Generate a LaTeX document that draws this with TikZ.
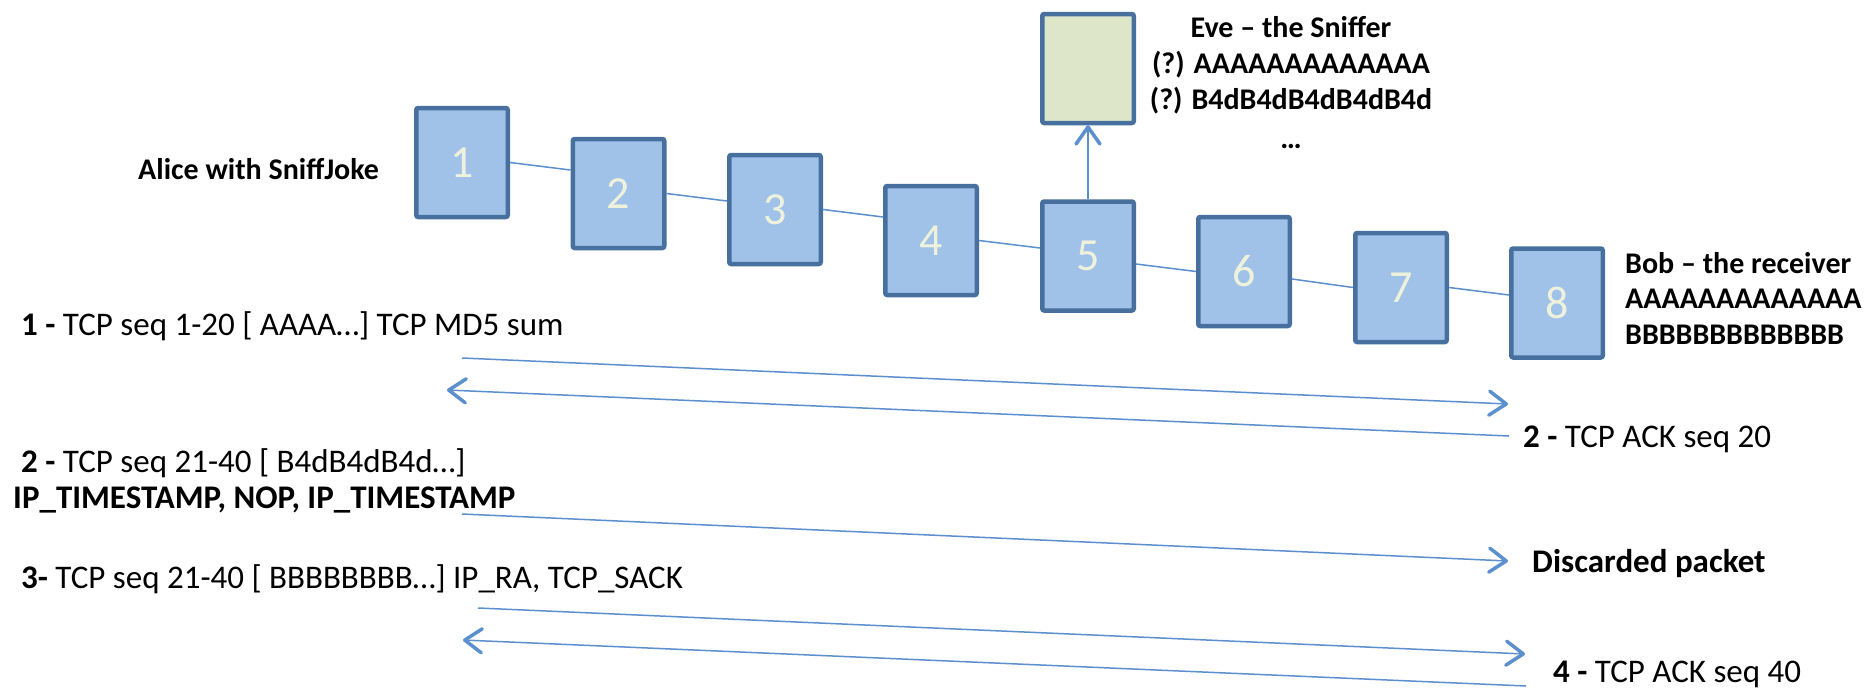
\documentclass[tikz,border=0pt]{standalone}
\usepackage{fontspec}
\setmainfont{Carlito}
\usetikzlibrary{arrows.meta,calc}

\definecolor{boxfill}{RGB}{160,194,233}
\definecolor{boxline}{RGB}{71,112,158}
\definecolor{evefill}{RGB}{221,230,200}
\definecolor{linkcol}{RGB}{91,143,206}
\definecolor{numcol}{RGB}{238,242,220}

\tikzset{
  hop/.style={draw=boxline, fill=boxfill, line width=4.5pt, rounded corners=2pt,
    minimum width=91.5pt, minimum height=109pt, inner sep=0pt,
    text=numcol, font=\fontsize{46}{50}\selectfont},
  sniffer/.style={hop, fill=evefill},
  link/.style={draw=linkcol, line width=1.5pt},
  msg/.style={link, -{Straight Barb[length=17pt,width=24pt,line width=3.5pt,round]}},
  txt/.style={anchor=base west, inner sep=0pt, font=\fontsize{33}{38}\selectfont},
  btxt/.style={txt, font=\bfseries\fontsize{33}{38}\selectfont},
  ntxt/.style={anchor=base west, inner sep=0pt, font=\bfseries\fontsize{30}{36}\selectfont},
  ctxt/.style={anchor=base, inner sep=0pt, font=\bfseries\fontsize{30}{36}\selectfont}
}

\begin{document}
\begin{tikzpicture}[x=1pt,y=-1pt]
\useasboundingbox (0,0) rectangle (1874,688);

% path of hops from Alice to Bob
\node[hop] (b1) at (462,162.5) {1};
\node[hop] (b2) at (618.5,193.5) {2};
\node[hop] (b3) at (775,209.5) {3};
\node[hop] (b4) at (931,240.5) {4};
\node[hop] (b5) at (1088,256) {5};
\node[hop] (b6) at (1244,271.5) {6};
\node[hop] (b7) at (1401,287.5) {7};
\node[hop] (b8) at (1557,303) {8};
\node[sniffer] (eve) at (1088,68.5) {};

\draw[link] (b1.east) -- ([yshift=23.5pt]b2.west);
\draw[link] (b2.east) -- ([yshift=8.5pt]b3.west);
\draw[link] (b3.east) -- ([yshift=23.5pt]b4.west);
\draw[link] (b4.east) -- ([yshift=8pt]b5.west);
\draw[link] ([yshift=-8pt]b5.east) -- (b6.west);
\draw[link] ([yshift=-7.5pt]b6.east) -- (b7.west);
\draw[link] (b7.east) -- ([yshift=8pt]b8.west);

% the sniffer taps hop 5
\draw[msg] (b5.north) -- (eve.south);

% endpoint labels
\node[ntxt] (alice) at (138,179) {Alice with SniffJoke};
\node[ctxt] (eve1) at (1291,37) {Eve -- the Sniffer};
\node[ctxt] (eve2) at (1291,73) {(?) AAAAAAAAAAAAA};
\node[ctxt] (eve3) at (1291,109) {(?) B4dB4dB4dB4dB4d};
\node[ctxt] (eve4) at (1291,148) {\dots};
\node[ntxt] (bob1) at (1625,273) {Bob -- the receiver};
\node[ntxt] (bob2) at (1625,308) {AAAAAAAAAAAAA};
\node[ntxt] (bob3) at (1625,344) {BBBBBBBBBBBBB};

% packet exchange
\node[txt] (t1) at (21,335) {\textbf{1 -} TCP seq 1-20 [ AAAA\dots] TCP MD5 sum};
\node[txt] (t2) at (1523,447) {\textbf{2 -} TCP ACK seq 20};
\node[txt] (t3) at (21,472) {\textbf{2 -} TCP seq 21-40 [ B4dB4dB4d\dots]};
\node[btxt] (t3b) at (13,508) {IP\_TIMESTAMP, NOP, IP\_TIMESTAMP};
\node[btxt] (t4) at (1532,572) {Discarded packet};
\node[txt] (t5) at (21,588) {\textbf{3-} TCP seq 21-40 [ BBBBBBBB\dots] IP\_RA, TCP\_SACK};
\node[txt] (t6) at (1553,682) {\textbf{4 -} TCP ACK seq 40};

\coordinate (m1s) at (462,358);  \coordinate (m1e) at (1508,404);
\coordinate (m2s) at (1509,436); \coordinate (m2e) at (447,390);
\coordinate (m3s) at (462,514);  \coordinate (m3e) at (1508,561);
\coordinate (m4s) at (478,608);  \coordinate (m4e) at (1525,654);
\coordinate (m5s) at (1526,686); \coordinate (m5e) at (463,640);

\draw[msg] (m1s) -- (m1e);
\draw[msg] (m2s) -- (m2e);
\draw[msg] (m3s) -- (m3e);
\draw[msg] (m4s) -- (m4e);
\draw[msg] (m5s) -- (m5e);
\end{tikzpicture}
\end{document}
